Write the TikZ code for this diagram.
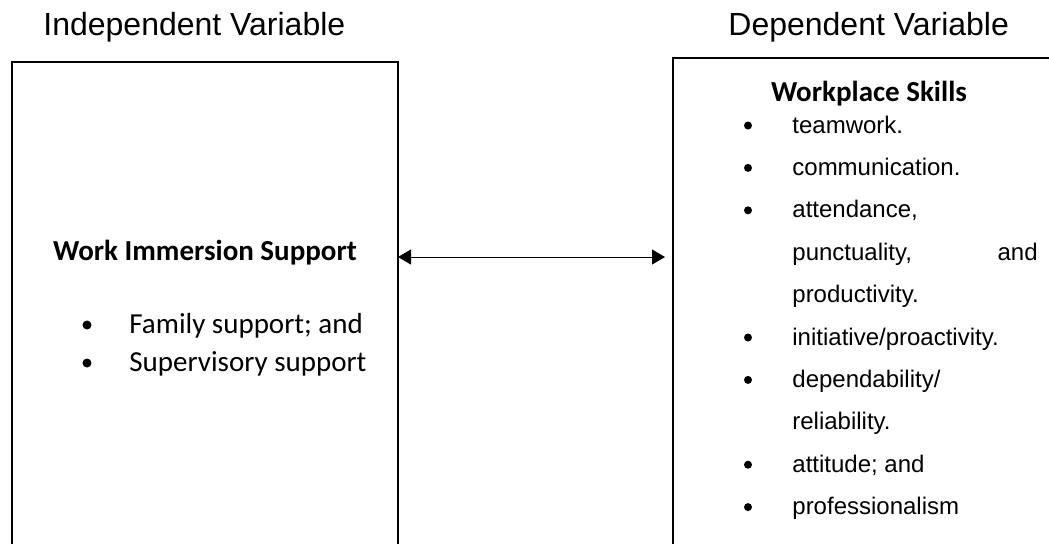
\documentclass[tikz,border=0pt]{standalone}
\usepackage{fontspec}
\setmainfont{Liberation Sans}
\newfontfamily\cbr{Carlito}
\usetikzlibrary{arrows.meta}
\tikzset{>={Triangle[width=7.5pt,length=6.5pt]}}
\tikzset{
  varbox/.style={draw, line width=1pt, outer sep=0pt, inner sep=0pt, anchor=north west, minimum width=#1, minimum height=260pt},
  vartitle/.style={anchor=base west, inner sep=0pt, font=\fontsize{16pt}{19pt}\selectfont},
  boxhead/.style={anchor=base, inner sep=0pt, font=\cbr\bfseries\fontsize{14.5pt}{17pt}\selectfont},
  skill/.style={anchor=base west, inner sep=0pt, font=\fontsize{12pt}{14pt}\selectfont},
  supp/.style={anchor=base west, inner sep=0pt, font=\cbr\fontsize{14.5pt}{17pt}\selectfont},
  bul/.style={circle, fill, inner sep=0pt, minimum size=#1},
}

\begin{document}
\begin{tikzpicture}[x=0.5pt, y=-0.5pt]
  \useasboundingbox (0,0) rectangle (1049,543);
  \clip (0,0) rectangle (1049,543);

  \newcommand\Ls{42.4}

  % titles
  \node[vartitle] (ivt) at (43,35) {Independent Variable};
  \node[vartitle] (dvt) at (728,35) {Dependent Variable};

  % boxes
  \node[varbox=193pt] (iv) at (12,62) {};
  \node[varbox=194pt] (dv) at (673,58) {};

  % independent
  \node[boxhead] (wis) at (205,260) {Work Immersion Support};
  \node[bul=4.5pt] (fb1) at (87,325) {};
  \node[supp] (fam) at (129,333) {Family support; and};
  \node[bul=4.5pt] (fb2) at (87,363) {};
  \node[supp] (sup) at (129,371) {Supervisory support};

  % dependent
  \node[boxhead] (wps) at (869,101) {Workplace Skills};
  \node[skill] (s1) at (792, 133+0*\Ls) {teamwork.};
  \node[skill] (s2) at (792, 133+1*\Ls) {communication.};
  \node[skill] (s3) at (792, 133+2*\Ls) {attendance,};
  \node[skill] (s3b) at (792, 133+3*\Ls) {punctuality,};
  \node[skill, anchor=base east] (s3c) at (1038, 133+3*\Ls) {and};
  \node[skill] (s3d) at (792, 133+4*\Ls) {productivity.};
  \node[skill] (s4) at (792, 133+5*\Ls) {initiative/proactivity.};
  \node[skill] (s5) at (792, 133+6*\Ls) {dependability/};
  \node[skill] (s5b) at (792, 133+7*\Ls) {reliability.};
  \node[skill] (s6) at (792, 133+8*\Ls) {attitude; and};
  \node[skill] (s7) at (792, 133+9*\Ls) {professionalism};
  \foreach \k/\n in {0/1,1/2,2/3,5/4,6/5,8/6,9/7}
    \node[bul=4pt] (db\n) at (748, 125.5+\k*\Ls) {};

  \coordinate (tip) at (665,257);
  \draw[<->, line width=0.5pt] (iv.east |- tip) -- (tip); % iv <-> dv

\end{tikzpicture}
\end{document}
